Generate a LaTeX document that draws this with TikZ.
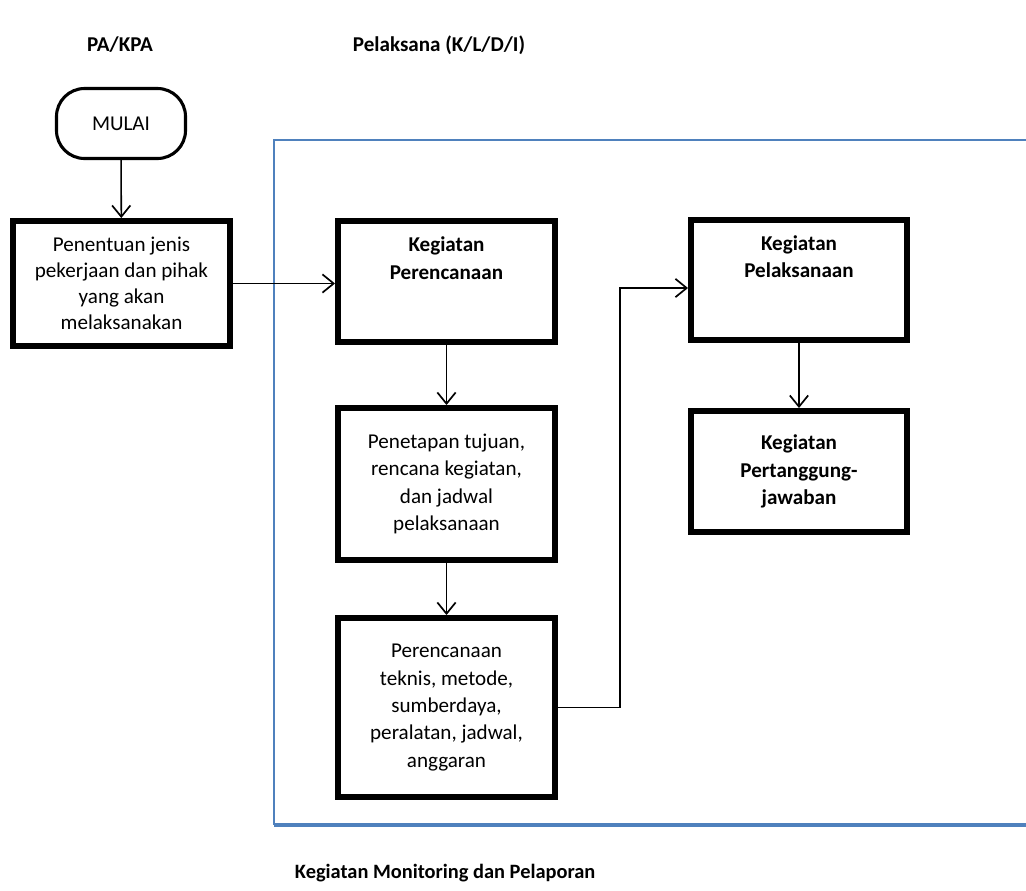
\documentclass[tikz,border=0pt]{standalone}
\usepackage{fontspec}
\setmainfont{Carlito}
\usetikzlibrary{arrows.meta}
\definecolor{frameblue}{RGB}{79,129,189}
\tikzset{
  box/.style={draw, line width=4.2pt, fill=white, align=center, inner sep=0pt,
    minimum width=5.425cm, font=\fontsize{15}{19.5}\selectfont},
  terminal/.style={draw, line width=2.2pt, rounded corners=20pt, fill=white,
    minimum width=3.225cm, minimum height=1.75cm, font=\fontsize{15}{18}\selectfont},
  conn/.style={line width=1.1pt, -{Straight Barb[length=8pt,width=13pt,line width=1.2pt]}},
  head/.style={font=\bfseries\fontsize{15}{18}\selectfont},
}
\begin{document}
\begin{tikzpicture}[x=0.025cm,y=-0.025cm]
            \useasboundingbox (0,0) rectangle (1026,890);

            % Define points
            \coordinate (bend) at (620,288);

            % Lane headers
            \node[head] (pa) at (120,45) {PA/KPA};
            \node[head] (pelaksana) at (439,45) {Pelaksana (K/L/D/I)};

            % Frame of the monitoring area
            \draw[frameblue, line width=1.2pt] (1026,140) -- (274,140) -- (274,825);
            \draw[frameblue, line width=2.2pt] (273.6,825) -- (1026,825);
            \node[head, anchor=west, font=\bfseries\fontsize{14.5}{18}\selectfont] (monitor) at (290,873) {Kegiatan Monitoring dan Pelaporan};

            % Boxes
            \node[terminal] (mulai) at (121,123.5) {MULAI};
            \node[box, minimum height=3.125cm, font=\fontsize{15}{18.5}\selectfont] (penentuan) at (121.5,283.5)
              {Penentuan jenis\\pekerjaan dan pihak\\yang akan\\melaksanakan};
            \node[box, minimum height=3.025cm, font=\bfseries\fontsize{15}{19.5}\selectfont] (perencanaan) at (446.5,281.5)
              {Kegiatan\\Perencanaan\\[14pt]\mbox{}};
            \node[box, minimum height=3.8cm] (penetapan) at (446.5,484)
              {Penetapan tujuan,\\rencana kegiatan,\\dan jadwal\\pelaksanaan};
            \node[box, minimum height=4.475cm] (teknis) at (446.5,707.5)
              {Perencanaan\\teknis, metode,\\sumberdaya,\\peralatan, jadwal,\\anggaran};
            \node[box, minimum width=5.4cm, minimum height=3cm, font=\bfseries\fontsize{15}{19.5}\selectfont] (pelaksanaan) at (799,280)
              {Kegiatan\\Pelaksanaan\\[14pt]\mbox{}};
            \node[box, minimum width=5.4cm, minimum height=3.025cm, font=\bfseries\fontsize{15}{19.5}\selectfont] (tanggung) at (799,471.5)
              {Kegiatan\\Pertanggung-\\jawaban};

            % Connectors
            \draw[conn] (mulai) -- (penentuan);
            \draw[conn] (penentuan.east) -- (penentuan.east -| perencanaan.west);
            \draw[conn] (perencanaan) -- (penetapan);
            \draw[conn] (penetapan) -- (teknis);
            \draw[conn] (teknis.east) -- (teknis.east -| bend) -- (bend) -- (bend -| pelaksanaan.west);
            \draw[conn] (pelaksanaan) -- (tanggung);
        \end{tikzpicture}
\end{document}
